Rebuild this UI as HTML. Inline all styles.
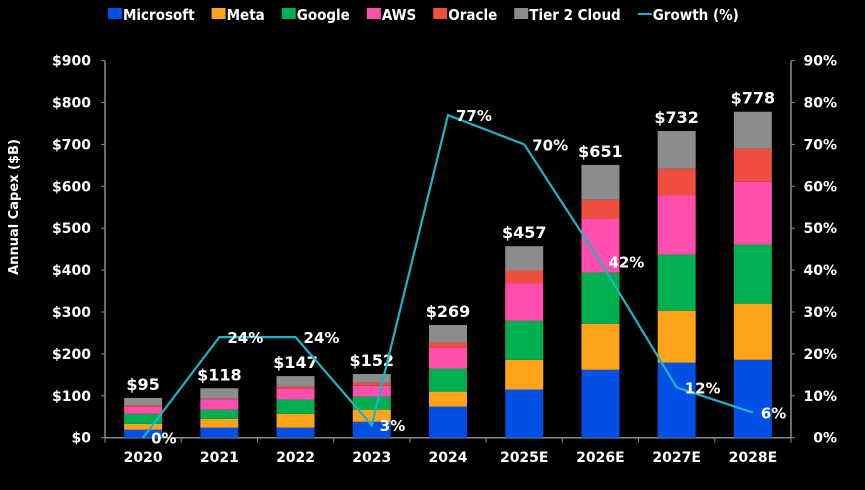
<!DOCTYPE html>
<html><head><meta charset="utf-8">
<style>
html,body{margin:0;padding:0;background:#000;}
svg{display:block;font-family:"DejaVu Sans","Liberation Sans",sans-serif;font-weight:bold;}
</style></head>
<body>
<svg id="chart" width="865" height="490" viewBox="0 0 865 490">
<rect width="865" height="490" fill="#000"/>
<g id="legend"></g>
<g id="axes"></g>
<g id="bars"></g>
<g id="line"></g>
</svg>
<script>
const categories = ["2020","2021","2022","2023","2024","2025E","2026E","2027E","2028E"];
const microsoft = [19,24,24,38,74,115,162,179,186];
const meta = [14,21,33,29,36,71,110,124,134];
const google = [24,22,34,31,55,93,122,134,141];
const aws = [17,24,26,26,50,89,129,141,150];
const oracle = [3,2,5,7,12,31,45,64,79];
const tier2 = [18,25,25,21,42,58,83,90,88];
const totals = [95,118,147,152,269,457,651,732,778];
const growth = [0,24,24,3,77,70,42,12,6];
const leftTicks = [0,100,200,300,400,500,600,700,800,900];
const rightTicks = [0,10,20,30,40,50,60,70,80,90];

const NS="http://www.w3.org/2000/svg";
const X0=105,X1=791,Y0=437.7,YT=60.6;
const yL=v=>Y0-(v/900)*(Y0-YT);
const yR=v=>Y0-(v/90)*(Y0-YT);
const bw=(X1-X0)/categories.length;
const xc=i=>X0+bw*(i+0.5);
function el(tag,attrs,parent,text){const e=document.createElementNS(NS,tag);for(const k in attrs)e.setAttribute(k,attrs[k]);if(text!==undefined)e.textContent=text;parent.appendChild(e);return e;}

const axes=document.getElementById('axes');
el('line',{x1:X0,y1:YT,x2:X0,y2:Y0,stroke:'#8a8a8a','stroke-width':1.5},axes);
el('line',{x1:X1,y1:YT,x2:X1,y2:Y0,stroke:'#8a8a8a','stroke-width':1.5},axes);
el('line',{x1:X0,y1:Y0,x2:X1,y2:Y0,stroke:'#8a8a8a','stroke-width':1.5},axes);
leftTicks.forEach(v=>{
  el('line',{x1:X0-4,y1:yL(v),x2:X0,y2:yL(v),stroke:'#8a8a8a'},axes);
  const t=el('text',{x:91,y:yL(v)+5,'text-anchor':'end',fill:'#fff','font-size':14},axes,'$'+v);
  
  
});
rightTicks.forEach(v=>{
  el('line',{x1:X1,y1:yR(v),x2:X1+4,y2:yR(v),stroke:'#8a8a8a'},axes);
  const t=el('text',{x:837,y:yR(v)+5,'text-anchor':'end',fill:'#fff','font-size':14},axes,v+'%');
  
  
});
for(let i=0;i<=categories.length;i++){el('line',{x1:X0+bw*i,y1:Y0,x2:X0+bw*i,y2:Y0+5,stroke:'#8a8a8a'},axes);}
categories.forEach((c,i)=>{
  const t=el('text',{x:xc(i),y:462,'text-anchor':'middle',fill:'#fff','font-size':14},axes,c);
  
  
});
const yt=el('text',{transform:'translate(18,207) rotate(-90)','text-anchor':'middle',fill:'#fff','font-size':13},axes,'Annual Capex ($B)');



const series=[[microsoft,'#0050e6','microsoft'],[meta,'#ffa31a','meta'],[google,'#00b050','google'],[aws,'#ff4fae','aws'],[oracle,'#f04e3e','oracle'],[tier2,'#8c8c8c','tier2']];
const bars=document.getElementById('bars');
categories.forEach((c,i)=>{
  let cum=0;
  series.forEach(([arr,col,nm])=>{
    const v=arr[i];
    const r=el('rect',{x:xc(i)-19,y:yL(cum+v),width:38,height:yL(cum)-yL(cum+v),fill:col},bars);
    
    
    cum+=v;
  });
  const t=el('text',{x:xc(i),y:yL(totals[i])-8,'text-anchor':'middle',fill:'#fff','font-size':16},bars,'$'+totals[i]);
  
  
});

const line=document.getElementById('line');
const pts=growth.map((g,i)=>xc(i)+','+yR(g)).join(' ');
const pl=el('polyline',{points:pts,fill:'none',stroke:'#1fb3c8','stroke-width':2.2},line);


growth.forEach((g,i)=>{
  const t=el('text',{x:xc(i)+8,y:yR(g)+6,fill:'#fff','font-size':15},line,g+'%');
  
  
});

const legend=document.getElementById('legend');
const items=[['Microsoft','#0050e6'],['Meta','#ffa31a'],['Google','#00b050'],['AWS','#ff4fae'],['Oracle','#f04e3e'],['Tier 2 Cloud','#8c8c8c'],['Growth (%)','#1fb3c8']];
let lx=108;
items.forEach(([name,col],k)=>{
  const g=el('g',{},legend);
  
  
  if(k===6){el('rect',{x:lx,y:13,width:14,height:2,fill:col},g);}
  else{el('rect',{x:lx,y:8,width:14,height:11,fill:col},g);}
  const t=el('text',{x:lx+15,y:20,fill:'#fff','font-size':15,'font-family':'"DejaVu Sans Condensed","DejaVu Sans",sans-serif'},g,name);
  lx+=15+t.getComputedTextLength()+17;
});
</script>
</body></html>
